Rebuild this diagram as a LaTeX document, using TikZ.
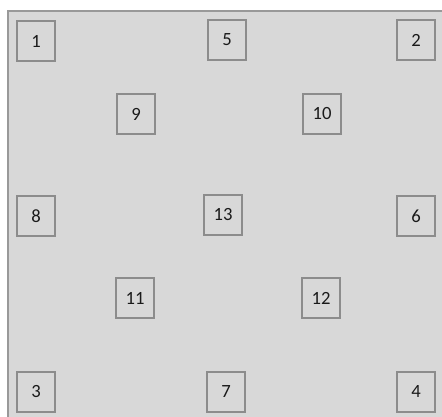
\documentclass[tikz,border=0pt]{standalone}
\usepackage{fontspec}
\setmainfont{Carlito}

\definecolor{panelgray}{HTML}{D8D8D8}
\definecolor{edgegray}{HTML}{999999}
\definecolor{boxgray}{HTML}{8C8C8C}
\definecolor{textgray}{HTML}{1A1A1A}

\begin{document}
\begin{tikzpicture}[x=0.75pt, y=-0.75pt,
		cell/.style={draw=boxgray, line width=1.5pt, minimum width=29pt, minimum height=30.5pt,
			inner sep=0pt, text=textgray, font=\fontsize{14}{16}\selectfont}]
		
		% Frame
		\useasboundingbox (0,0) rectangle (442,417);
		\fill[panelgray] (8,11) rectangle (442,417);
		\draw[edgegray, line width=1pt] (8,417) -- (8,11) -- (442,11);
		
		% Corner and edge cells
		\node[cell] (n1) at (36,41) {1};
		\node[cell] (n5) at (227,40) {5};
		\node[cell] (n2) at (416,40) {2};
		\node[cell] (n8) at (36,216) {8};
		\node[cell] (n6) at (416,216) {6};
		\node[cell] (n3) at (36,392) {3};
		\node[cell] (n7) at (226,392) {7};
		\node[cell] (n4) at (416,392) {4};
		
		% Inner cells
		\node[cell] (n9) at (136,114) {9};
		\node[cell] (n10) at (322,114) {10};
		\node[cell] (n13) at (223,215) {13};
		\node[cell] (n11) at (135,298) {11};
		\node[cell] (n12) at (321,298) {12};
		
	\end{tikzpicture}
\end{document}
